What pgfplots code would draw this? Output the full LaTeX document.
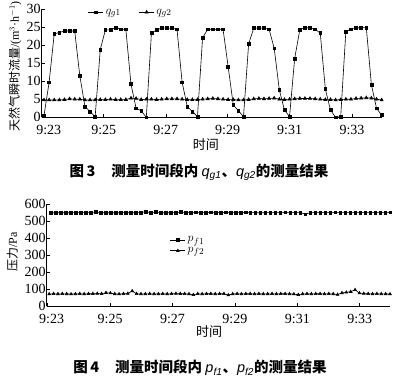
\documentclass[border=0pt]{standalone}
\usepackage{fontspec}
\setmainfont{Liberation Serif}
\newfontfamily\cjk{Noto Sans CJK SC}
\newfontfamily\capsans{Liberation Sans}
\usepackage{pgfplots}
\pgfplotsset{compat=1.18}
\usepackage{pgfplotstable}

\pgfplotstableread{
i q
0 0.5
1 9.7
2 23.1
3 23.5
4 23.9
5 23.9
6 23.9
7 11.5
8 3.0
9 1.6
10 0.2
11 18.8
12 24.2
13 24.2
14 24.8
15 24.4
16 24.4
17 9.2
18 2.5
19 1.8
20 0.0
21 23.3
22 24.2
23 24.7
24 24.7
25 24.7
26 24.4
27 9.7
28 3.0
29 1.6
30 0.2
31 22.0
32 24.4
33 24.4
34 24.4
35 24.4
36 14.0
37 3.4
38 1.8
39 0.2
40 20.3
41 24.7
42 24.7
43 24.7
44 24.4
45 19.1
46 7.6
47 2.0
48 0.2
49 16.3
50 24.2
51 24.9
52 24.7
53 24.4
54 23.3
55 7.8
56 2.0
57 0.0
58 0.2
59 23.7
60 24.4
61 24.7
62 24.9
63 24.9
64 9.0
65 2.5
66 0.6
}\qgone

\pgfplotstableread{
i q
0 4.8
1 4.8
2 4.8
3 4.8
4 4.9
5 5.1
6 5.0
7 5.0
8 4.8
9 4.8
10 4.8
11 4.9
12 4.9
13 5.0
14 4.9
15 4.9
16 4.9
17 5.3
18 5.2
19 4.9
20 5.0
21 5.0
22 4.9
23 5.0
24 5.1
25 5.1
26 5.1
27 5.0
28 4.9
29 4.9
30 4.9
31 5.0
32 5.1
33 5.2
34 5.1
35 5.0
36 4.9
37 4.9
38 4.8
39 4.8
40 4.9
41 5.1
42 5.2
43 5.1
44 5.2
45 5.3
46 5.0
47 4.9
48 5.0
49 5.1
50 5.2
51 5.2
52 5.2
53 5.1
54 5.0
55 4.9
56 4.9
57 4.8
58 4.9
59 5.0
60 5.0
61 5.2
62 5.3
63 5.4
64 5.3
65 5.0
66 4.8
}\qgtwo

\pgfplotstableread{
t p
0.10 549
0.26 548
0.42 549
0.58 548
0.74 549
0.90 549
1.06 549
1.22 549
1.38 549
1.54 554
1.70 549
1.86 548
2.02 549
2.18 548
2.34 549
2.50 549
2.66 548
2.82 549
2.98 549
3.14 555
3.30 549
3.46 553
3.62 549
3.78 548
3.94 549
4.10 549
4.26 553
4.42 549
4.58 549
4.74 550
4.90 549
5.06 549
5.22 550
5.38 549
5.54 549
5.70 550
5.86 549
6.02 549
6.18 549
6.34 550
6.50 549
6.66 549
6.82 548
6.98 549
7.14 549
7.30 549
7.46 549
7.62 550
7.78 549
7.94 549
8.10 549
8.26 540
8.42 549
8.58 549
8.74 549
8.90 549
9.06 549
9.22 550
9.38 549
9.54 549
9.70 549
9.86 549
10.02 549
10.18 549
10.34 549
10.50 549
10.66 549
10.82 549
10.98 550
}\pfone

\pgfplotstableread{
t p
0.05 70
0.19 72
0.33 71
0.47 72
0.61 71
0.75 70
0.89 71
1.03 72
1.17 71
1.31 72
1.45 72
1.59 73
1.73 72
1.87 78
2.01 76
2.15 71
2.29 70
2.43 72
2.57 73
2.71 88
2.85 72
2.99 71
3.13 71
3.27 72
3.41 71
3.55 71
3.69 72
3.83 71
3.97 72
4.11 73
4.25 72
4.39 72
4.53 71
4.67 66
4.81 72
4.95 71
5.09 72
5.23 72
5.37 71
5.51 72
5.65 72
5.79 64
5.93 71
6.07 72
6.21 71
6.35 72
6.49 72
6.63 71
6.77 72
6.91 71
7.05 71
7.19 72
7.33 71
7.47 72
7.61 72
7.75 71
7.89 70
8.03 66
8.17 71
8.31 72
8.45 71
8.59 72
8.73 72
8.87 71
9.01 72
9.15 71
9.29 67
9.43 77
9.57 80
9.71 84
9.85 95
9.99 76
10.13 73
10.27 72
10.41 71
10.55 72
10.69 71
10.83 71
10.97 70
}\pftwo

\pgfplotsset{
  common/.style={
    scale only axis,
    axis x line*=bottom,
    axis y line*=left,
    tick align=inside,
    major tick length=3pt,
    tick style={black, line width=0.5pt},
    axis line style={line width=0.6pt},
    tick label style={font=\fontsize{14}{14}\selectfont},
    /pgf/number format/assume math mode=true,
    yticklabel style={inner sep=1pt},
    clip=false,
    legend cell align=left,
    legend image code/.code={\draw[mark repeat=2,mark phase=2,##1] plot coordinates {(0pt,0pt) (7.5pt,0pt) (15pt,0pt)};},
  },
  ser/.style={black, line width=0.6pt, mark size=1.4pt},
}

\begin{document}
\begin{tikzpicture}
\path[use as bounding box] (0pt,0pt) rectangle (400pt,385pt);
\begin{axis}[common,
  at={(41.7pt,267.7pt)}, anchor=south west,
  width=340.6pt, height=108.3pt,
  xmin=-0.45, xmax=66.13, ymin=0, ymax=30,
  ytick={0,5,...,30},
  xtick={-0.45,11.67,23.8,35.9,48.0,60.2},
  xticklabels={9:23,9:25,9:27,9:29,9:31,9:33},
  xticklabel style={yshift=-4pt, xshift={ifthenelse(\ticknum==0,7,0)}},
  xlabel={\cjk 时间}, xlabel style={font=\fontsize{13}{13}\selectfont, at={(axis description cs:0.482,-0.256)}, anchor=center},
  ylabel={{\cjk 天然气瞬时流量}/(m$^{3}$·h$^{-1}$)}, ylabel style={font=\fontsize{12}{12}\selectfont, at={(axis description cs:-0.078,0.47)}, anchor=center},
  legend style={at={(axis description cs:0.127,0.97)}, anchor=west, draw=none, fill=none, font=\fontsize{13}{13}\selectfont, legend columns=2, /tikz/every even column/.append style={column sep=16pt}},
]
\addplot[ser, mark=square*] table[x=i,y=q] {\qgone};
\addlegendentry{$q_{g1}$}
\addplot[ser, mark=triangle*, mark size=1.8pt] table[x=i,y=q] {\qgtwo};
\addlegendentry{$q_{g2}$}
\end{axis}

\node[font=\fontsize{14.5}{14.5}\selectfont] at (199pt,212.7pt) {{\cjk\bfseries 图\,3\hspace{1.1em}测量时间段内 }{\capsans\itshape q\textsubscript{g1}}{\cjk\bfseries 、}{\capsans\itshape q\textsubscript{g2}}{\cjk\bfseries 的测量结果}};

\begin{axis}[common,
  at={(46.7pt,79pt)}, anchor=south west,
  width=343.3pt, height=102pt,
  xmin=-0.03, xmax=10.97, ymin=0, ymax=600,
  ytick={0,100,...,600},
  xtick={0,2,...,10},
  xticklabels={9:23,9:25,9:27,9:29,9:31,9:33},
  xticklabel style={yshift=-5pt, xshift={ifthenelse(\ticknum==0,4,0)}},
  xlabel={\cjk 时间}, xlabel style={font=\fontsize{13}{13}\selectfont, at={(axis description cs:0.473,-0.255)}, anchor=center},
  ylabel={{\cjk 压力}/Pa}, ylabel style={font=\fontsize{12}{12}\selectfont, at={(axis description cs:-0.1,0.532)}, anchor=center},
  legend style={at={(axis description cs:0.35,0.72)}, anchor=north west, draw=none, fill=none, font=\fontsize{13}{13}\selectfont, legend columns=1, row sep=0pt},
]
\addplot[ser, mark=square*, mark size=1.3pt] table[x=t,y=p] {\pfone};
\addlegendentry{$p_{f1}$}
\addplot[ser, mark=triangle*, mark size=1.6pt] table[x=t,y=p] {\pftwo};
\addlegendentry{$p_{f2}$}
\end{axis}

\node[font=\fontsize{14.5}{14.5}\selectfont] at (200pt,17pt) {{\cjk\bfseries 图\,4\hspace{1.1em}测量时间段内 }{\capsans\itshape p\textsubscript{f1}}{\cjk\bfseries 、}{\capsans\itshape p\textsubscript{f2}}{\cjk\bfseries 的测量结果}};
\end{tikzpicture}
\end{document}
